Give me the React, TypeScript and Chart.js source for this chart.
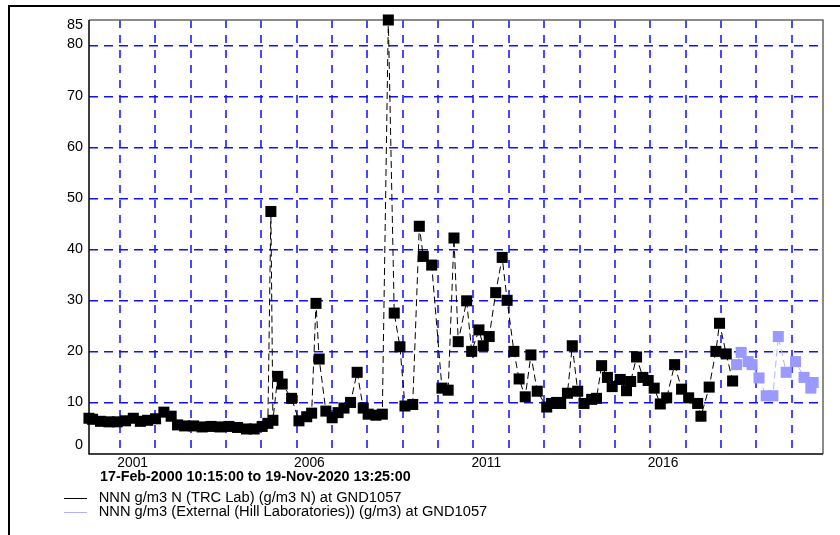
import { useEffect, useRef } from 'react';
import { Chart, registerables } from 'chart.js';

Chart.register(...registerables);

const RANGE_START = '2000-02-17T10:15:00';
const RANGE_END = '2020-11-19T13:25:00';
const RANGE_TEXT = '17-Feb-2000 10:15:00 to 19-Nov-2020 13:25:00';

const seriesNames = [
  'NNN g/m3 N (TRC Lab) (g/m3 N) at GND1057',
  'NNN g/m3 (External (Hill Laboratories)) (g/m3) at GND1057',
];

const trcDates = [
  '2000-02-17', '2000-03-25', '2000-06-15', '2000-09-10', '2000-12-05', '2001-03-01',
  '2001-05-20', '2001-08-01', '2001-10-15', '2002-01-05', '2002-04-01', '2002-06-15',
  '2002-08-20', '2002-11-01', '2003-02-01', '2003-05-01', '2003-08-01', '2003-11-01',
  '2004-02-01', '2004-05-01', '2004-08-01', '2004-10-20', '2005-01-10', '2005-03-10',
  '2005-04-10', '2005-05-01', '2005-06-20', '2005-08-05', '2005-11-10', '2006-01-25',
  '2006-04-15', '2006-06-05', '2006-07-20', '2006-08-22', '2006-10-30', '2007-01-03',
  '2007-03-05', '2007-05-05', '2007-07-12', '2007-09-18', '2007-11-20', '2008-01-10',
  '2008-03-30', '2008-06-04', '2008-08-05', '2008-10-05', '2008-12-03', '2009-01-24',
  '2009-04-14', '2009-06-21', '2009-08-01', '2009-10-27', '2010-02-10', '2010-04-15',
  '2010-06-14', '2010-07-28', '2010-10-23', '2010-12-14', '2011-02-27', '2011-04-12',
  '2011-06-13', '2011-08-19', '2011-10-25', '2011-12-15', '2012-02-23', '2012-04-17',
  '2012-06-19', '2012-08-17', '2012-10-21', '2013-01-27', '2013-03-18', '2013-05-09',
  '2013-06-20', '2013-08-29', '2013-10-18', '2013-12-13', '2014-02-16', '2014-05-06',
  '2014-06-25', '2014-08-17', '2014-10-16', '2014-12-04', '2015-02-25', '2015-05-01',
  '2015-06-13', '2015-08-13', '2015-10-17', '2015-12-11', '2016-02-11', '2016-04-14',
  '2016-06-19', '2016-09-09', '2016-11-20', '2017-02-01', '2017-05-05', '2017-06-08',
  '2017-09-01', '2017-11-09', '2017-12-17', '2018-02-24', '2018-05-01',
];

const trcValues = [
  7.0, 6.8, 6.4, 6.3, 6.3, 6.5,
  7.0, 6.4, 6.6, 6.9, 8.2, 7.4,
  5.7, 5.5, 5.5, 5.3, 5.4, 5.3,
  5.4, 5.2, 4.9, 4.9, 5.4, 6.0,
  47.5, 6.6, 15.2, 13.7, 10.9, 6.5,
  7.3, 8.0, 29.5, 18.6, 8.4, 7.1,
  8.1, 9.0, 10.1, 16.0, 9.0, 7.8,
  7.6, 7.8, 85.0, 27.6, 21.0, 9.4,
  9.7, 44.6, 38.7, 37.0, 12.9, 12.5,
  42.3, 22.0, 30.0, 20.1, 24.3, 21.2,
  23.0, 31.6, 38.5, 30.1, 20.1, 14.7,
  11.2, 19.4, 12.3, 9.2, 9.9, 10.1,
  9.9, 11.9, 21.2, 12.3, 9.9, 10.7,
  10.9, 17.3, 15.0, 13.2, 14.6, 12.4,
  14.2, 19.0, 15.0, 14.4, 12.9, 9.8,
  11.0, 17.5, 12.7, 11.0, 9.9, 7.4,
  13.1, 20.1, 25.6, 19.6, 14.3,
];

const hillDates = [
  '2018-06-11', '2018-07-28', '2018-10-08', '2018-11-18', '2019-01-29', '2019-04-13',
  '2019-06-21', '2019-08-16', '2019-11-05', '2020-02-10', '2020-05-08', '2020-07-17',
  '2020-08-10',
];

const hillValues = [
  17.5, 19.9, 18.1, 17.5, 14.9, 11.4,
  11.4, 23.0, 16.0, 18.1, 15.0, 12.9,
  14.0,
];

const yTickValues = [0, 10, 20, 30, 40, 50, 60, 70, 80, 85];
const yGridValues = [10, 20, 30, 40, 50, 60, 70, 80];
const xGridYears = [
  2001, 2002, 2003, 2004, 2005, 2006, 2007, 2008, 2009, 2010,
  2011, 2012, 2013, 2014, 2015, 2016, 2017, 2018, 2019, 2020,
];
const xLabelYears = [2001, 2006, 2011, 2016];

const FONT = '"Liberation Sans", Arial, sans-serif';
const BLACK_SERIES = '#000000';
const HILL_POINT = '#9999ff';
const HILL_LINE = '#b0b0ff';
const GRID_BLUE_H = '#1010ff';
const GRID_BLUE_V = '#4848ff';

const toMs = (s: string) => Date.parse(s.length > 10 ? s + 'Z' : s + 'T00:00:00Z');
const yearMs = (y: number) => Date.UTC(y, 0, 1);

const decorPlugin = {
  id: 'decor',
  beforeDatasetsDraw(chart: any) {
    const { ctx, chartArea: a } = chart;
    ctx.save();
    ctx.setLineDash([]);
    ctx.lineWidth = 1.5;
    ctx.strokeStyle = '#666666';
    ctx.beginPath();
    ctx.moveTo(a.left, a.top);
    ctx.lineTo(a.right, a.top);
    ctx.lineTo(a.right, a.bottom);
    ctx.stroke();
    ctx.strokeStyle = '#000000';
    ctx.beginPath();
    ctx.moveTo(a.left, a.top);
    ctx.lineTo(a.left, a.bottom);
    ctx.lineTo(a.right, a.bottom);
    ctx.stroke();
    ctx.restore();
  },
  afterDraw(chart: any) {
    const { ctx, chartArea: a, scales } = chart;
    const xs = scales.x;
    const ys = scales.y;
    ctx.save();
    // outer frame
    ctx.fillStyle = '#000000';
    ctx.fillRect(8, 5, 840, 2);
    ctx.fillRect(8, 5, 2, 540);

    // y labels
    ctx.font = `14.4px ${FONT}`;
    ctx.textAlign = 'right';
    ctx.textBaseline = 'middle';
    for (const v of yTickValues) {
      let py = ys.getPixelForValue(v) - 1;
      if (v === 0) py = ys.getPixelForValue(v) - 9;
      if (v === 85) py = ys.getPixelForValue(v) + 5;
      ctx.fillText(String(v), a.left - 6, py);
    }

    // x labels
    ctx.font = `13.8px ${FONT}`;
    ctx.textAlign = 'center';
    ctx.textBaseline = 'middle';
    for (const yr of xLabelYears) {
      const px = xs.getPixelForValue(yearMs(yr)) + 12.8;
      ctx.fillText(String(yr), px, a.bottom + 9);
    }

    // range text
    ctx.font = `bold 14.3px ${FONT}`;
    ctx.textAlign = 'left';
    ctx.fillText(RANGE_TEXT, 100, 477.5);

    // legend
    const legendColors = [BLACK_SERIES, HILL_LINE];
    const legendY = [497.5, 511.5];
    ctx.font = `14.7px ${FONT}`;
    for (let i = 0; i < seriesNames.length; i++) {
      ctx.strokeStyle = legendColors[i];
      ctx.lineWidth = 1;
      ctx.beginPath();
      ctx.moveTo(64, Math.round(legendY[i]) + 0.5);
      ctx.lineTo(87, Math.round(legendY[i]) + 0.5);
      ctx.stroke();
      ctx.fillStyle = '#000000';
      ctx.fillText(seriesNames[i], 98.7, legendY[i]);
    }
    ctx.restore();
  },
};

export default function App() {
  const canvasRef = useRef<HTMLCanvasElement | null>(null);

  useEffect(() => {
    const canvas = canvasRef.current;
    if (!canvas) return;
    const trcData = trcDates.map((d, i) => ({ x: toMs(d), y: trcValues[i] }));
    const hillData = hillDates.map((d, i) => ({ x: toMs(d), y: hillValues[i] }));

    const chart = new Chart(canvas, {
      type: 'scatter',
      data: {
        datasets: [
          {
            label: seriesNames[0],
            data: trcData,
            showLine: true,
            borderColor: BLACK_SERIES,
            borderWidth: 1,
            borderDash: [7, 4],
            pointStyle: 'rect',
            pointRadius: 7.8,
            pointBorderWidth: 0,
            pointBackgroundColor: BLACK_SERIES,
            pointBorderColor: BLACK_SERIES,
            clip: false,
          },
          {
            label: seriesNames[1],
            data: hillData,
            showLine: true,
            borderColor: HILL_LINE,
            borderWidth: 1,
            borderDash: [7, 4],
            pointStyle: 'rect',
            pointRadius: 7.8,
            pointBorderWidth: 0,
            pointBackgroundColor: HILL_POINT,
            pointBorderColor: HILL_POINT,
            clip: false,
          },
        ],
      } as any,
      options: {
        responsive: false,
        animation: false,
        events: [],
        layout: { padding: { left: 89, top: 20, right: 17, bottom: 81 } },
        plugins: {
          legend: { display: false },
          tooltip: { enabled: false },
          title: { display: false },
        },
        scales: {
          x: {
            type: 'linear',
            min: toMs(RANGE_START),
            max: toMs(RANGE_END),
            afterBuildTicks: (scale: any) => {
              scale.ticks = xGridYears.map((y) => ({ value: yearMs(y) }));
            },
            ticks: { display: false },
            grid: { color: GRID_BLUE_V, lineWidth: 2, drawTicks: false },
            border: { display: false, dash: [8, 7] },
          },
          y: {
            type: 'linear',
            min: 0,
            max: 85,
            afterBuildTicks: (scale: any) => {
              scale.ticks = yGridValues.map((v) => ({ value: v }));
            },
            ticks: { display: false },
            grid: { color: GRID_BLUE_H, lineWidth: 1.5, drawTicks: false },
            border: { display: false, dash: [9, 6] },
          },
        },
      } as any,
      plugins: [decorPlugin],
    });
    return () => chart.destroy();
  }, []);

  return (
    <div style={{ position: 'fixed', left: 0, top: 0, width: 840, height: 535, overflow: 'hidden', background: '#fff' }}>
      <canvas ref={canvasRef} width={840} height={535} style={{ display: 'block' }} />
    </div>
  );
}
